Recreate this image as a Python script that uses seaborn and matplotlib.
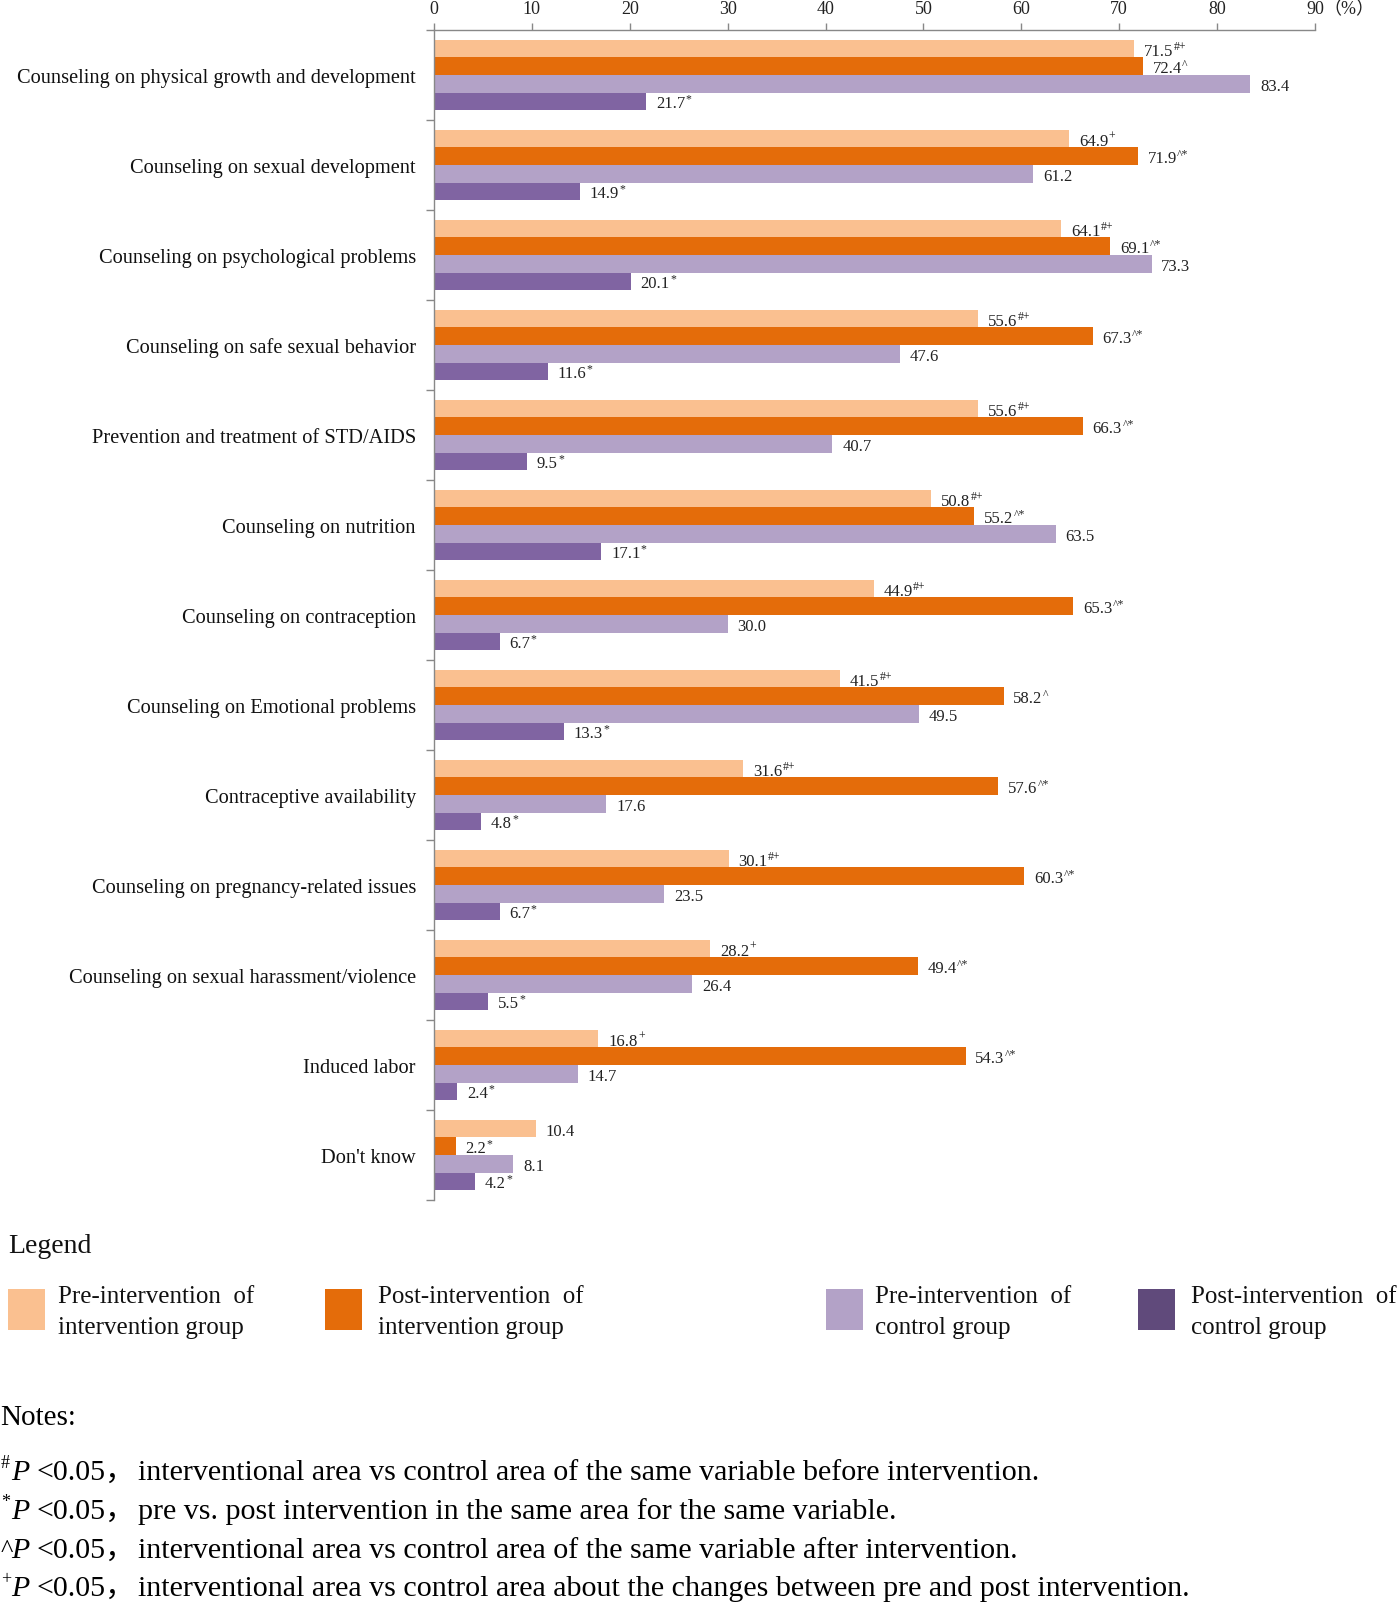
import numpy as np
import pandas as pd
import matplotlib
matplotlib.use("Agg")
import matplotlib.pyplot as plt
import seaborn as sns
from matplotlib.patches import Rectangle

# ---------------- data ----------------
categories = [
    "Counseling on physical growth and development",
    "Counseling on sexual development",
    "Counseling on psychological problems",
    "Counseling on safe sexual behavior",
    "Prevention and treatment of STD/AIDS",
    "Counseling on nutrition",
    "Counseling on contraception",
    "Counseling on Emotional problems",
    "Contraceptive availability",
    "Counseling on pregnancy-related issues",
    "Counseling on sexual harassment/violence",
    "Induced labor",
    "Don't know",
]
groups = [
    "Pre-intervention of intervention group",
    "Post-intervention of intervention group",
    "Pre-intervention of control group",
    "Post-intervention of control group",
]
pre_int = [71.5, 64.9, 64.1, 55.6, 55.6, 50.8, 44.9, 41.5, 31.6, 30.1, 28.2, 16.8, 10.4]
post_int = [72.4, 71.9, 69.1, 67.3, 66.3, 55.2, 65.3, 58.2, 57.6, 60.3, 49.4, 54.3, 2.2]
pre_ctrl = [83.4, 61.2, 73.3, 47.6, 40.7, 63.5, 30.0, 49.5, 17.6, 23.5, 26.4, 14.7, 8.1]
post_ctrl = [21.7, 14.9, 20.1, 11.6, 9.5, 17.1, 6.7, 13.3, 4.8, 6.7, 5.5, 2.4, 4.2]

sig_pre_int = ["#+", "+", "#+", "#+", "#+", "#+", "#+", "#+", "#+", "#+", "+", "+", ""]
sig_post_int = ["^", "^*", "^*", "^*", "^*", "^*", "^*", "^", "^*", "^*", "^*", "^*", "*"]
sig_pre_ctrl = [""] * 13
sig_post_ctrl = ["*"] * 13

xticks = [0, 10, 20, 30, 40, 50, 60, 70, 80, 90]

legend_lines = [
    ("Pre-intervention  of", "intervention group"),
    ("Post-intervention  of", "intervention group"),
    ("Pre-intervention  of", "control group"),
    ("Post-intervention  of", "control group"),
]
note_marks = ["#", "*", "^", "+"]
note_texts = [
    "interventional area vs control area of the same variable before intervention.",
    "pre vs. post intervention in the same area for the same variable.",
    "interventional area vs control area of the same variable after intervention.",
    "interventional area vs control area about the changes between pre and post intervention.",
]

bar_colors = ["#FAC090", "#E46C0A", "#B3A2C7", "#8064A2"]
legend_colors = ["#FAC090", "#E46C0A", "#B3A2C7", "#604A7B"]

# ---------------- style ----------------
sns.set_style("white")
plt.rcParams["font.family"] = ["Liberation Serif", "Noto Sans CJK SC"]

W, H = 1399, 1606
fig = plt.figure(figsize=(W / 100, H / 100), dpi=100)


def fx(px):
    return px / W


def fy(py):
    return 1 - py / H


ax = fig.add_axes([fx(434), fy(1201), fx(1315) - fx(434), fy(31) - fy(1201)])

df = pd.DataFrame({
    "category": categories * 4,
    "value": pre_int + post_int + pre_ctrl + post_ctrl,
    "group": sum([[g] * len(categories) for g in groups], []),
})

sns.barplot(data=df, y="category", x="value", hue="group", order=categories,
            hue_order=groups, palette=bar_colors, orient="h", width=0.78,
            saturation=1, legend=False, ax=ax, linewidth=0)

ax.set_xlim(0, 90)
ax.set_ylim(12.5, -0.5)
ax.set_xlabel("")
ax.set_ylabel("")

# axes / ticks
ax.xaxis.tick_top()
ax.set_xticks(xticks)
ax.set_xticklabels([str(t) for t in xticks])
ax.tick_params(axis="x", top=True, bottom=False, length=5, width=1, color="#888888",
               labelsize=13, pad=4, labelcolor="#222222", direction="out")
ax.set_yticks(np.arange(len(categories)))
ax.set_yticks(np.arange(-0.5, len(categories), 1), minor=True)
ax.tick_params(axis="y", which="major", length=0, pad=13, labelsize=14.7, labelcolor="#111111")
ax.tick_params(axis="y", which="minor", left=True, length=6, width=1, color="#888888", direction="out")
for side in ["right", "bottom"]:
    ax.spines[side].set_visible(False)
for side in ["left", "top"]:
    ax.spines[side].set_color("#888888")
    ax.spines[side].set_linewidth(1)
ax.grid(False)

ax.annotate("（%）", xy=(90, 1), xycoords=("data", "axes fraction"), xytext=(6, 9),
            textcoords="offset points", ha="left", va="bottom", fontsize=13, color="#222222")

# value labels
for cont, sigs in zip(ax.containers, [sig_pre_int, sig_post_int, sig_pre_ctrl, sig_post_ctrl]):
    for bar, s in zip(cont, sigs):
        w = bar.get_width()
        yc = bar.get_y() + bar.get_height() / 2
        t = ax.annotate(f"{w:.1f}", xy=(w, yc), xytext=(7, -1.5), textcoords="offset points",
                        ha="left", va="center", fontsize=12, color="#222222")
        if s:
            ax.annotate(s, xy=(1, 0.8), xycoords=t, xytext=(0.3, 0), textcoords="offset points",
                        ha="left", va="center", fontsize=8.5, color="#222222")

# ---------------- legend ----------------
fig.text(fx(8), fy(1247), "Legend", fontsize=20, ha="left", va="center", color="#111111")
sw_x = [8, 325, 826, 1138]
tx_x = [58, 378, 875, 1191]
for i in range(4):
    fig.add_artist(Rectangle((fx(sw_x[i]), fy(1331)), fx(37), 41 / H,
                             transform=fig.transFigure, facecolor=legend_colors[i], edgecolor="none"))
    fig.text(fx(tx_x[i]), fy(1297), legend_lines[i][0], fontsize=18, ha="left", va="center", color="#111111")
    fig.text(fx(tx_x[i]), fy(1328), legend_lines[i][1], fontsize=18, ha="left", va="center", color="#111111")

# ---------------- notes ----------------
fig.text(fx(0), fy(1418), "Notes:", fontsize=21, ha="left", va="center", color="#000000")
note_y = [1473, 1512, 1551, 1589]
for m, txt, y in zip(note_marks, note_texts, note_y):
    if m == "^":
        fig.text(fx(1), fy(y), m, fontsize=19, ha="left", va="center", color="#000000")
    else:
        fig.text(fx(1), fy(y - 9), m, fontsize=13, ha="left", va="center", color="#000000")
    fig.text(fx(11), fy(y), "P", fontsize=21.5, style="italic", ha="left", va="center", color="#000000")
    fig.text(fx(36), fy(y), "<0.05，", fontsize=21.5, ha="left", va="center", color="#000000")
    fig.text(fx(138), fy(y), txt, fontsize=21.6, ha="left", va="center", color="#000000")

fig.savefig("out.png", dpi=100)
